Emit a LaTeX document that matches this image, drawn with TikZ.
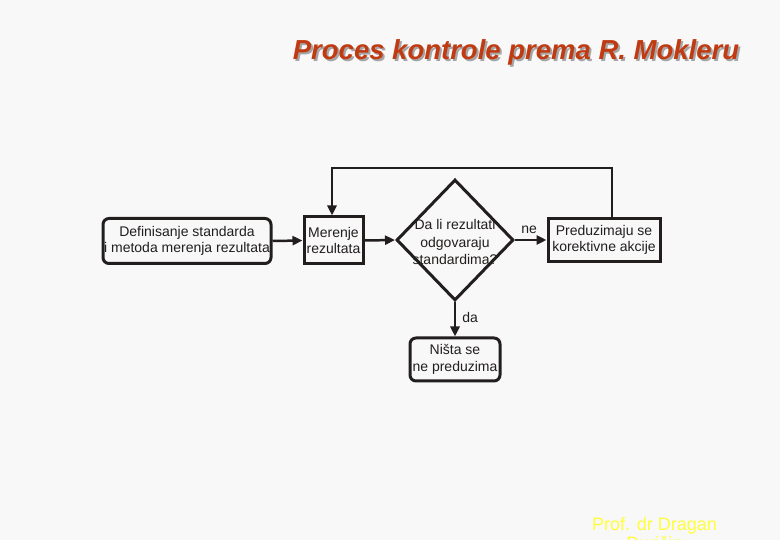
\documentclass[tikz,border=0pt]{standalone}
\usepackage{fontspec}
\setmainfont{Liberation Sans}
\usetikzlibrary{arrows.meta,shapes.geometric}
\definecolor{bg}{RGB}{248,248,248}
\definecolor{ink}{RGB}{34,30,30}
\definecolor{titlered}{RGB}{192,58,18}
\definecolor{titleshadow}{RGB}{165,165,165}
\definecolor{footyellow}{RGB}{255,255,60}
\tikzset{
  box/.style={draw=ink, line width=3pt, inner sep=0pt, align=center, text=ink, font=\fontsize{14}{16.5}\selectfont},
  rbox/.style={box, rounded corners=6pt},
  decision/.style={diamond, draw=ink, line width=3pt, inner sep=0pt},
  conn/.style={draw=ink, line width=2.5pt, -{Triangle[length=10pt,width=9pt]}},
  lbl/.style={text=ink, font=\fontsize{14}{16}\selectfont, inner sep=0pt},
  foottext/.style={text=footyellow, font=\fontsize{18}{21}\selectfont, anchor=base, inner sep=0pt},
}
\begin{document}
\begin{tikzpicture}[x=1pt,y=-1pt]
\fill[bg] (0,0) rectangle (780,540);
\clip (0,0) rectangle (780,540);
\useasboundingbox (0,0) rectangle (780,540);
% title
\node[text=titleshadow, font=\fontsize{27.5}{32}\selectfont\bfseries\itshape] (titlesh) at (518,54) {Proces kontrole prema R. Mokleru};
\node[text=titlered, font=\fontsize{27.5}{32}\selectfont\bfseries\itshape] (title) at (516,52) {Proces kontrole prema R. Mokleru};
% nodes
\node[rbox, minimum width=168pt, minimum height=45pt] (def) at (187,241) {Definisanje standarda\\i metoda merenja rezultata};
\node[box, minimum width=59pt, minimum height=47pt] (mer) at (333.5,240.5) {Merenje\\rezultata};
\node[decision, minimum width=117pt, minimum height=121pt] (dec) at (455,240) {};
\node[align=center, text=ink, font=\fontsize{14}{17.5}\selectfont, inner sep=0pt] (dectext) at (455,242) {Da li rezultati\\odgovaraju\\standardima?};
\node[box, minimum width=112pt, minimum height=43pt] (kor) at (604,240) {Preduzimaju se\\korektivne akcije};
\node[rbox, minimum width=90pt, minimum height=43pt] (nista) at (455,359.5) {Ništa se\\ne preduzima};
% connectors
\draw[conn] (def.east) -- (mer.west);
\draw[conn] (mer.east) -- (dec.west);
\draw[conn] (dec.east) -- (kor.west) node[lbl, pos=0.45, above=5pt] (ne) {ne};
\draw[conn] (dec.south) -- (nista.north) node[lbl, pos=0.45, right=6pt] (da) {da};
\coordinate (fbr) at (612,168);
\coordinate (fbl) at (332,168);
\draw[conn] (kor.north -| fbr) -- (fbr) -- (fbl) -- (fbl |- mer.north);
% footer
\node[foottext] (foot1) at (654.5,530) {Prof. dr Dragan};
\node[foottext] (foot2) at (654.5,549) {Đuričin};
\end{tikzpicture}
\end{document}
